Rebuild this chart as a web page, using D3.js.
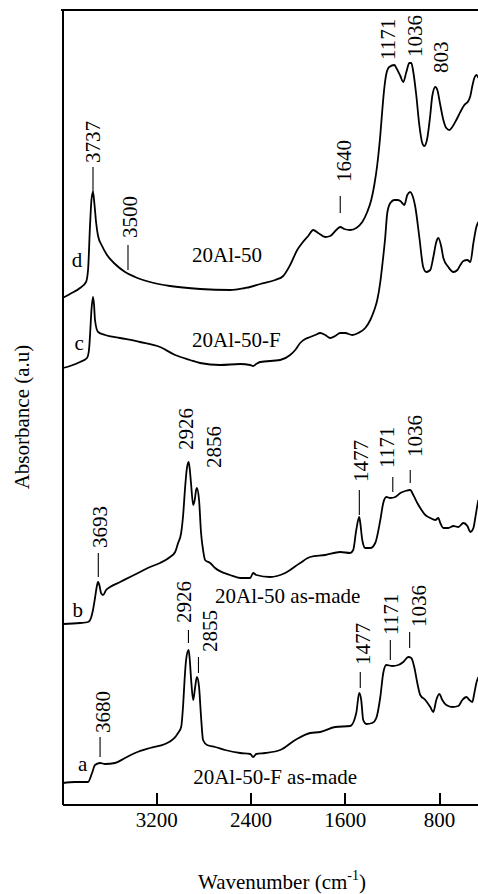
<!DOCTYPE html>
<html>
<head>
<meta charset="utf-8">
<title>FTIR spectra 20Al-50</title>
<style>
  body { margin: 0; background: #fff; }
  svg text { font-family: "Liberation Serif", "Times New Roman", serif; fill: #000; }
  .axis path, .axis line { stroke: #000; stroke-width: 2; shape-rendering: crispEdges; }
  .axis text { font-size: 21px; font-family: "Liberation Serif", serif; }
  .spec { fill: none; stroke: #000; stroke-width: 1.8; stroke-linejoin: round; }
  .lbl { font-size: 21px; }
  .mark { stroke: #000; stroke-width: 1.1; }
</style>
<script src="https://d3js.org/d3.v7.min.js"></script>
</head>
<body>
<div id="chart"></div>
<script>
// spectra, [wavenumber, absorbance (a.u., offset)]
var spec_a = [[3992,0.21],[3890,0.22],[3779,0.22],[3745,0.31],[3720,0.39],[3677,0.41],[3635,0.40],[3550,0.41],
  [3465,0.46],[3380,0.51],[3253,0.56],[3125,0.60],[3066,0.64],[3032,0.68],[3015,0.71],[2989,0.77],[2972,0.99],
  [2960,1.24],[2947,1.44],[2926,1.54],[2917,1.46],[2904,1.24],[2887,1.04],[2870,1.17],[2855,1.27],[2837,1.17],
  [2820,0.87],[2803,0.64],[2769,0.59],[2701,0.57],[2616,0.54],[2488,0.51],[2403,0.50],[2378,0.47],[2352,0.50],
  [2276,0.51],[2149,0.54],[2021,0.64],[1894,0.71],[1809,0.72],[1682,0.77],[1554,0.78],[1503,0.91],[1478,1.11],
  [1461,1.04],[1444,0.84],[1418,0.80],[1367,0.81],[1333,0.86],[1299,1.07],[1274,1.31],[1248,1.39],[1197,1.38],
  [1146,1.39],[1104,1.42],[1061,1.47],[1036,1.46],[1011,1.37],[985,1.21],[960,1.09],[917,1.04],[875,0.97],
  [849,0.92],[824,1.04],[798,1.10],[773,1.04],[739,0.99],[688,0.97],[637,0.98],[603,1.04],[569,1.07],[543,1.04],
  [518,1.02],[501,1.11],[484,1.21],[467,1.27]];

var spec_b = [[3992,1.80],[3847,1.81],[3779,1.82],[3754,1.86],[3737,1.94],[3720,2.06],[3707,2.16],[3694,2.22],
  [3681,2.18],[3669,2.11],[3652,2.09],[3626,2.14],[3592,2.17],[3507,2.22],[3423,2.27],[3338,2.32],[3253,2.37],
  [3168,2.41],[3083,2.47],[3040,2.52],[3015,2.61],[2989,2.71],[2972,2.89],[2955,3.17],[2942,3.34],[2926,3.42],
  [2917,3.36],[2904,3.19],[2887,2.99],[2874,3.04],[2862,3.14],[2856,3.16],[2837,3.04],[2820,2.71],[2803,2.54],
  [2786,2.44],[2743,2.41],[2701,2.36],[2573,2.29],[2488,2.26],[2403,2.26],[2378,2.31],[2352,2.29],[2234,2.27],
  [2106,2.31],[1979,2.41],[1894,2.47],[1766,2.49],[1639,2.52],[1554,2.51],[1529,2.54],[1503,2.74],[1478,2.87],
  [1469,2.81],[1452,2.64],[1427,2.56],[1384,2.56],[1342,2.61],[1299,2.84],[1274,3.01],[1248,3.07],[1214,3.06],
  [1172,3.07],[1129,3.11],[1087,3.13],[1045,3.14],[1019,3.09],[985,3.01],[960,2.96],[917,2.89],[875,2.86],
  [832,2.84],[807,2.86],[790,2.81],[764,2.76],[722,2.76],[679,2.78],[637,2.77],[594,2.81],[560,2.78],[535,2.72],
  [509,2.76],[492,2.87],[475,2.99],[467,3.04]];

var spec_c = [[3992,4.36],[3932,4.38],[3847,4.42],[3788,4.46],[3771,4.54],[3762,4.69],[3750,4.94],[3737,5.07],
  [3728,4.99],[3720,4.84],[3694,4.72],[3635,4.69],[3507,4.66],[3338,4.62],[3168,4.57],[3040,4.49],[2913,4.44],
  [2828,4.41],[2658,4.39],[2488,4.40],[2403,4.39],[2378,4.38],[2352,4.40],[2318,4.42],[2149,4.44],[2064,4.49],
  [2021,4.54],[1979,4.61],[1936,4.65],[1894,4.67],[1851,4.69],[1809,4.71],[1766,4.69],[1724,4.66],[1682,4.68],
  [1639,4.71],[1597,4.71],[1537,4.69],[1486,4.71],[1427,4.76],[1384,4.84],[1350,4.94],[1325,5.04],[1299,5.22],
  [1282,5.39],[1257,5.67],[1240,5.91],[1214,6.01],[1180,6.04],[1155,6.04],[1129,6.03],[1095,5.99],[1070,6.09],
  [1045,6.12],[1028,6.09],[1002,5.97],[968,5.67],[935,5.37],[909,5.32],[875,5.34],[849,5.47],[824,5.62],
  [807,5.66],[781,5.57],[764,5.46],[722,5.37],[679,5.32],[645,5.34],[620,5.39],[594,5.43],[560,5.44],[535,5.42],
  [509,5.61],[484,5.77],[467,5.82]];

var spec_d = [[3996,5.06],[3932,5.10],[3847,5.16],[3796,5.22],[3779,5.34],[3762,5.79],[3750,6.04],[3737,6.12],
  [3724,5.99],[3711,5.82],[3694,5.68],[3660,5.58],[3618,5.49],[3550,5.40],[3465,5.32],[3380,5.27],[3253,5.22],
  [3083,5.18],[2828,5.15],[2573,5.14],[2446,5.16],[2403,5.17],[2318,5.20],[2191,5.24],[2123,5.28],[2064,5.39],
  [2004,5.54],[1962,5.61],[1911,5.68],[1868,5.74],[1826,5.71],[1766,5.67],[1724,5.68],[1673,5.74],[1639,5.77],
  [1605,5.75],[1554,5.74],[1503,5.76],[1452,5.82],[1410,5.92],[1376,6.04],[1350,6.19],[1325,6.39],[1299,6.69],
  [1282,6.94],[1265,7.16],[1248,7.30],[1223,7.37],[1180,7.39],[1163,7.36],[1129,7.28],[1104,7.22],[1078,7.32],
  [1053,7.41],[1036,7.41],[1019,7.32],[994,7.09],[968,6.79],[943,6.61],[926,6.58],[900,6.66],[875,6.89],
  [858,7.08],[832,7.17],[815,7.14],[790,6.99],[764,6.84],[739,6.76],[713,6.74],[688,6.77],[654,6.84],
  [620,6.92],[586,6.99],[552,7.03],[535,7.08],[518,7.18],[501,7.26],[484,7.29],[467,7.26]];

var xTicks = [3200, 2400, 1600, 800];
var curveLetters = ["a", "b", "c", "d"];
var sampleNames = ["20Al-50-F as-made", "20Al-50 as-made", "20Al-50-F", "20Al-50"];

// where letters / names sit (wavenumber, a.u. of baseline)
var letterPos = [[3864, 0.33], [3910, 1.87], [3893, 4.54], [3918, 5.37]];
var namePos = [[2887, 0.20], [2701, 2.01], [2896, 4.57], [2896, 5.42]];

// peak marks: text centre wn, text bottom level, optional marker line
var peakLabels = [
  {text: "3737", wn: 3737, at: 6.41, tickWn: 3737, tick: [6.12, 6.37]},
  {text: "3500", wn: 3430, at: 5.66, tickWn: 3440, tick: [5.34, 5.59]},
  {text: "1640", wn: 1613, at: 6.22, tickWn: 1639, tick: [5.91, 6.08]},
  {text: "1171", wn: 1240, at: 7.44},
  {text: "1036", wn: 1011, at: 7.47},
  {text: "803", wn: 790, at: 7.31},
  {text: "3693", wn: 3677, at: 2.56, tickWn: 3692, tick: [2.27, 2.51]},
  {text: "2926", wn: 2955, at: 3.54},
  {text: "2856", wn: 2709, at: 3.36},
  {text: "1477", wn: 1469, at: 3.22, tickWn: 1477, tick: [2.89, 3.14]},
  {text: "1171", wn: 1245, at: 3.36, tickWn: 1193, tick: [3.12, 3.27]},
  {text: "1036", wn: 1011, at: 3.47, tickWn: 1045, tick: [3.21, 3.34]},
  {text: "3680", wn: 3652, at: 0.71, tickWn: 3677, tick: [0.47, 0.67]},
  {text: "2926", wn: 2972, at: 1.81, tickWn: 2927, tick: [1.61, 1.74]},
  {text: "2855", wn: 2743, at: 1.52, tickWn: 2842, tick: [1.31, 1.47]},
  {text: "1477", wn: 1452, at: 1.39, tickWn: 1469, tick: [1.16, 1.32]},
  {text: "1171", wn: 1210, at: 1.69, tickWn: 1214, tick: [1.44, 1.64]},
  {text: "1036", wn: 977, at: 1.77, tickWn: 1050, tick: [1.56, 1.72]}
];

var W = 478, H = 894;
var plotL = 62, plotR = 478, plotT = 10, plotB = 804;

var svg = d3.select("#chart").append("svg")
    .attr("width", W)
    .attr("height", H);

var x = d3.scaleLinear().domain([4000, 470]).range([plotL, plotR]);
var y = d3.scaleLinear().domain([0, 7.94]).range([plotB, plotT]);

// frame
svg.append("g")
    .attr("class", "x axis")
    .attr("transform", "translate(0," + plotB + ")")
    .call(d3.axisBottom(x).tickValues(xTicks).tickFormat(d3.format("d"))
      .tickSizeInner(-11).tickSizeOuter(0).tickPadding(8));

svg.append("g")
    .attr("class", "y axis")
    .attr("transform", "translate(" + plotL + ",0)")
    .call(d3.axisLeft(y).tickValues([]).tickSizeOuter(0));

svg.append("line")
    .attr("x1", plotL - 1).attr("x2", plotR)
    .attr("y1", plotT).attr("y2", plotT)
    .attr("stroke", "#000").attr("stroke-width", 2)
    .attr("shape-rendering", "crispEdges");

// spectra
var line = d3.line()
    .x(function(d) { return x(d[0]); })
    .y(function(d) { return y(d[1]); })
    .curve(d3.curveMonotoneX);

[spec_a, spec_b, spec_c, spec_d].forEach(function(s) {
  svg.append("path").datum(s).attr("class", "spec").attr("d", line);
});

// letters and sample names
curveLetters.forEach(function(t, i) {
  svg.append("text").attr("class", "lbl")
    .attr("x", x(letterPos[i][0])).attr("y", y(letterPos[i][1]))
    .text(t);
});
sampleNames.forEach(function(t, i) {
  svg.append("text").attr("class", "lbl")
    .attr("x", x(namePos[i][0])).attr("y", y(namePos[i][1]))
    .text(t);
});

// peak annotations
peakLabels.forEach(function(p) {
  if (p.tick) {
    svg.append("line").attr("class", "mark")
      .attr("x1", x(p.tickWn)).attr("x2", x(p.tickWn))
      .attr("y1", y(p.tick[0])).attr("y2", y(p.tick[1]));
  }
  svg.append("text").attr("class", "lbl")
    .attr("transform", "translate(" + x(p.wn) + "," + y(p.at) + ") rotate(-90)")
    .attr("dy", "0.35em")
    .text(p.text);
});

// axis titles
var xt = svg.append("text").attr("class", "lbl")
    .attr("x", 282).attr("y", 889)
    .attr("text-anchor", "middle");
xt.append("tspan").text("Wavenumber (cm");
xt.append("tspan").attr("dy", -9).attr("font-size", 14).text("-1");
xt.append("tspan").attr("dy", 9).text(")");

svg.append("text").attr("class", "lbl")
    .attr("transform", "translate(29,417) rotate(-90)")
    .attr("text-anchor", "middle")
    .text("Absorbance (a.u)");
</script>
</body>
</html>
